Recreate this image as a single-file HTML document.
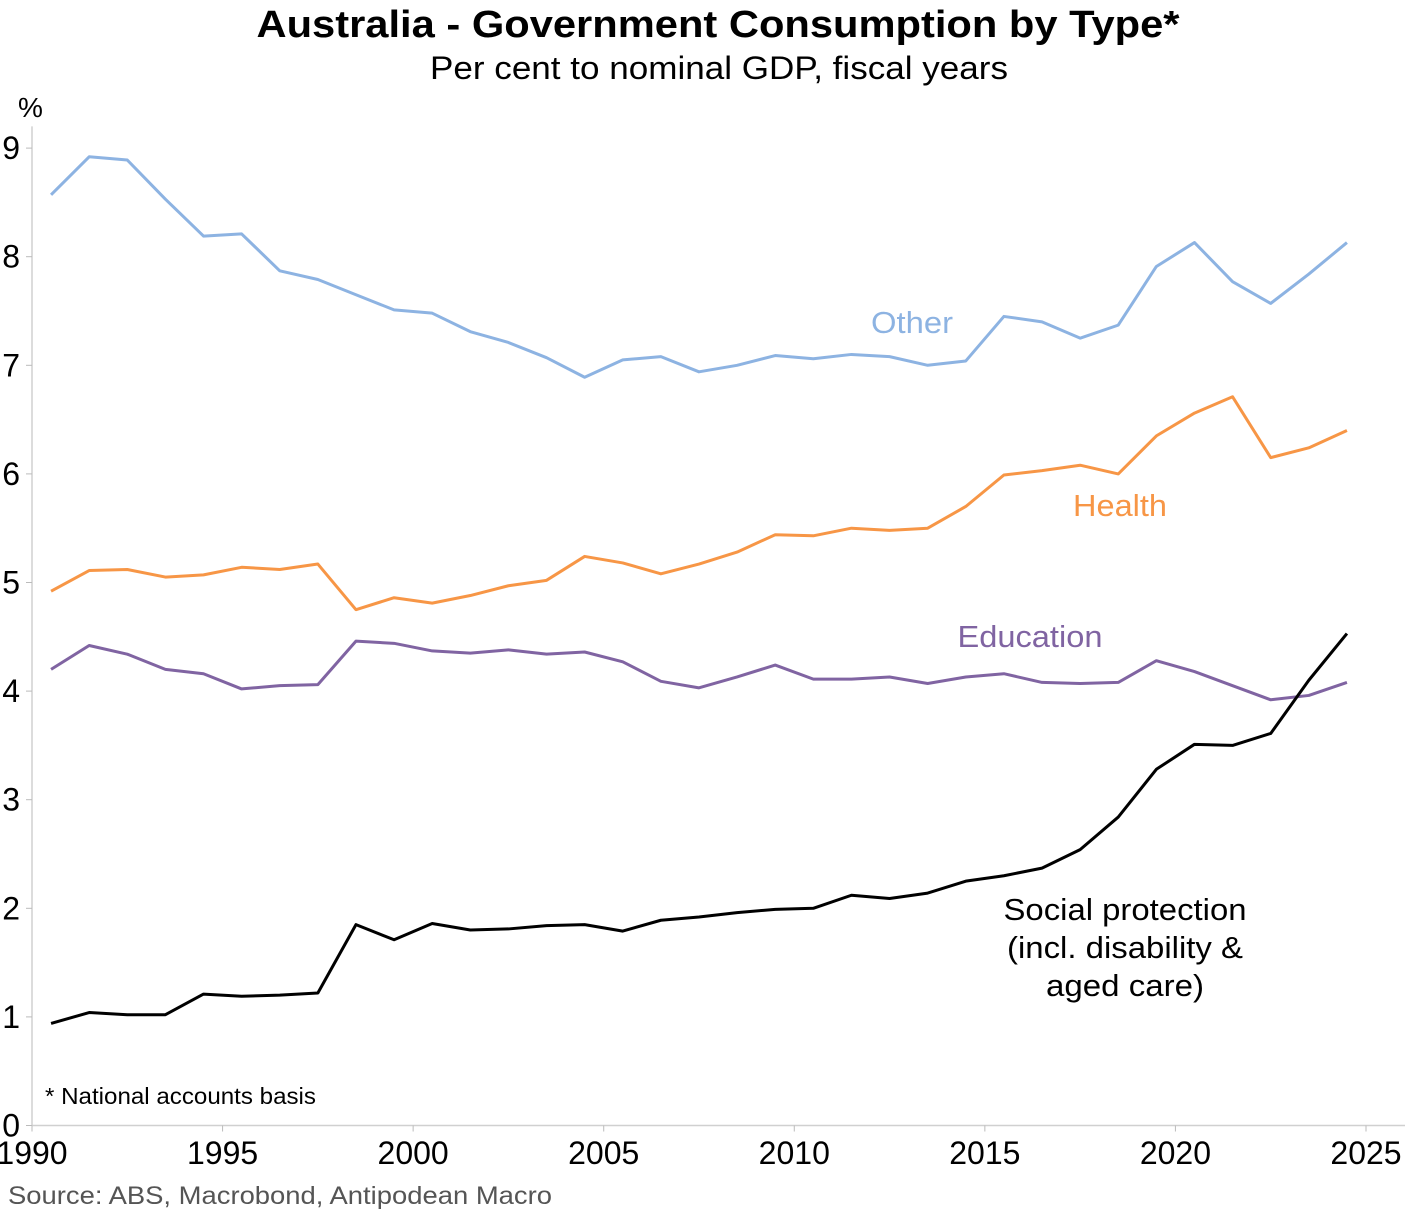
<!DOCTYPE html>
<html><head><meta charset="utf-8"><style>
body{margin:0;background:#fff;font-family:"Liberation Sans",Arial,sans-serif}
svg text{font-family:"Liberation Sans",Arial,sans-serif}
</style></head><body>
<svg id="chart" width="1419" height="1212" xmlns="http://www.w3.org/2000/svg">
<text x="718" y="37" text-anchor="middle" font-size="38" font-weight="bold" textLength="923" lengthAdjust="spacingAndGlyphs">Australia - Government Consumption by Type*</text>
<text x="719" y="79" text-anchor="middle" font-size="32" textLength="578" lengthAdjust="spacingAndGlyphs">Per cent to nominal GDP, fiscal years</text>
<text x="18" y="117" font-size="28">%</text>
<text x="45" y="1104" font-size="23" textLength="271" lengthAdjust="spacingAndGlyphs">* National accounts basis</text>
<text x="8" y="1204" font-size="25" fill="#555" textLength="544" lengthAdjust="spacingAndGlyphs">Source: ABS, Macrobond, Antipodean Macro</text>
<g id="axes"></g><g id="series"></g>
<text x="912" y="333" text-anchor="middle" font-size="31" fill="#8db3e2" textLength="82" lengthAdjust="spacingAndGlyphs">Other</text>
<text x="1120" y="516" text-anchor="middle" font-size="31" fill="#f79646" textLength="94" lengthAdjust="spacingAndGlyphs">Health</text>
<text x="1030" y="647" text-anchor="middle" font-size="31" fill="#8064a2" textLength="145" lengthAdjust="spacingAndGlyphs">Education</text>
<text text-anchor="middle" font-size="31" fill="#000"><tspan x="1125" y="920" textLength="243" lengthAdjust="spacingAndGlyphs">Social protection</tspan><tspan x="1125" y="958" textLength="236" lengthAdjust="spacingAndGlyphs">(incl. disability &amp;</tspan><tspan x="1125" y="996" textLength="158" lengthAdjust="spacingAndGlyphs">aged care)</tspan></text>
</svg>
<script>
const years=[];for(let y=1990.5;y<=2024.5;y++)years.push(y);
const other=[8.57,8.92,8.89,8.53,8.19,8.21,7.87,7.79,7.65,7.51,7.48,7.31,7.21,7.07,6.89,7.05,7.08,6.94,7.00,7.09,7.06,7.10,7.08,7.00,7.04,7.45,7.40,7.25,7.37,7.91,8.13,7.77,7.57,7.84,8.13];
const health=[4.92,5.11,5.12,5.05,5.07,5.14,5.12,5.17,4.75,4.86,4.81,4.88,4.97,5.02,5.24,5.18,5.08,5.17,5.28,5.44,5.43,5.50,5.48,5.50,5.70,5.99,6.03,6.08,6.00,6.35,6.56,6.71,6.15,6.24,6.40];
const education=[4.20,4.42,4.34,4.20,4.16,4.02,4.05,4.06,4.46,4.44,4.37,4.35,4.38,4.34,4.36,4.27,4.09,4.03,4.13,4.24,4.11,4.11,4.13,4.07,4.13,4.16,4.08,4.07,4.08,4.28,4.18,4.05,3.92,3.96,4.08];
const social=[0.94,1.04,1.02,1.02,1.21,1.19,1.20,1.22,1.85,1.71,1.86,1.80,1.81,1.84,1.85,1.79,1.89,1.92,1.96,1.99,2.00,2.12,2.09,2.14,2.25,2.30,2.37,2.54,2.84,3.28,3.51,3.50,3.61,4.10,4.53];
const xTicks=[1990,1995,2000,2005,2010,2015,2020,2025];
const yTicks=[0,1,2,3,4,5,6,7,8,9];
const NS="http://www.w3.org/2000/svg";
const X=v=>32+(v-1990)*38.114, Y=v=>1125.5-v*108.6;
function mk(t,a,p){const e=document.createElementNS(NS,t);for(const k in a)e.setAttribute(k,a[k]);p.appendChild(e);return e;}
const ax=document.getElementById('axes');
let l=mk('line',{x1:32,y1:Y(0),x2:1405,y2:Y(0),stroke:'#d0d0d0','stroke-width':1.5},ax);

l=mk('line',{x1:32,y1:Y(9.2),x2:32,y2:Y(0),stroke:'#d0d0d0','stroke-width':1.5},ax);

xTicks.forEach(t=>{const tk=mk('line',{x1:X(t),y1:Y(0),x2:X(t),y2:Y(0)+6,stroke:'#bbb'},ax);

const tx=mk('text',{x:X(t),y:1164,'text-anchor':'middle','font-size':32},ax);tx.textContent=t;
});
yTicks.forEach(t=>{const tk=mk('line',{x1:26,y1:Y(t),x2:32,y2:Y(t),stroke:'#bbb'},ax);

const tx=mk('text',{x:20,y:Y(t)+11,'text-anchor':'end','font-size':32},ax);tx.textContent=t;
});
const sg=document.getElementById('series');
[[other,'#8db3e2','other-line'],[health,'#f79646','health-line'],[education,'#8064a2','education-line'],[social,'#000','social-protection-line']].forEach(([d,c,n])=>{
const p=mk('polyline',{points:d.map((v,i)=>X(years[i])+','+Y(v)).join(' '),fill:'none',stroke:c,'stroke-width':3,'stroke-linejoin':'round'},sg);
});
</script>
</body></html>
